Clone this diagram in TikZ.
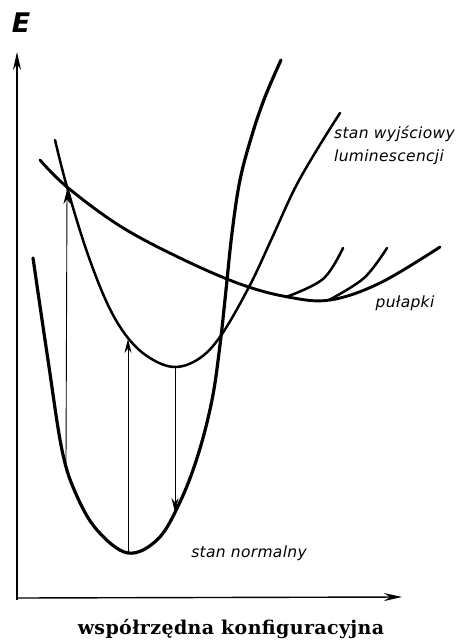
\documentclass[tikz,border=0pt]{standalone}
\usepackage{fontspec}
\newfontfamily\curvefont[LetterSpace=2]{DejaVu Sans}
\newfontfamily\axisfont[LetterSpace=2]{DejaVu Serif}
\usetikzlibrary{arrows.meta}

\begin{document}
\begin{tikzpicture}[x=1pt,y=-1pt,
  axis/.style={line width=1.4pt,-{Stealth[length=18pt,width=8pt]}},
  curve/.style={line width=2.9pt,line cap=round,line join=round},
  transition/.style={line width=0.9pt,-{Stealth[length=14pt,width=7pt]}},
  curvelabel/.style={font=\curvefont\itshape\fontsize{15.5}{23}\selectfont,inner sep=0pt}]
  \useasboundingbox (0,0) rectangle (462,641);

  % axes
  \coordinate (origin) at (17,598);
  \coordinate (etop) at (17,52);
  \coordinate (qend) at (402,597);
  \draw[axis] (17,600) -- (etop);
  \draw[axis] (origin) -- (qend);
  \node[font=\curvefont\bfseries\itshape\fontsize{27}{28}\selectfont,inner sep=0pt] (elabel) at (21,23) {E};
  \node[font=\axisfont\bfseries\fontsize{19}{22}\selectfont,inner sep=0pt] (qlabel) at (231,629) {współrzędna konfiguracyjna};

  % stan normalny
  \draw[curve,line width=3.2pt] plot[smooth,tension=0.6] coordinates {
    (33,258) (48,360) (62,450) (76,494) (97,530) (128,553)
    (158,539) (180,502) (198,455) (212,400) (220,345) (226,290)
    (232,233) (240,180) (252,135) (265,97) (281,60)};

  % stan wyjsciowy luminescencji
  \draw[curve,line width=2.5pt] plot[smooth,tension=0.6] coordinates {
    (55,140) (67,187) (87,252) (108,305) (128,338) (150,358) (175,367)
    (200,358) (222,334) (250,285) (272,238) (295,188) (318,148) (340,113)};

  % pulapki
  \draw[curve] plot[smooth,tension=0.6] coordinates {
    (40,160) (67,187) (120,226) (180,258) (240,284) (288,297)
    (330,300) (380,283) (440,247)};
  \draw[curve,line width=2.5pt] plot[smooth,tension=0.6] coordinates {
    (286,297) (323,279) (343,248)};
  \draw[curve,line width=2.5pt] plot[smooth,tension=0.6] coordinates {
    (329,300) (364,278) (387,248)};

  % przejscia
  \coordinate (g1) at (66,463);
  \coordinate (x1) at (67,190);
  \coordinate (g0) at (128,553);
  \coordinate (x0) at (128,339);
  \coordinate (xmin) at (175,367);
  \coordinate (g2) at (175,512);
  \draw[transition] (g1) -- (x1);
  \draw[transition] (g0) -- (x0);
  \draw[transition] (xmin) -- (g2);

  % opisy
  \node[curvelabel,anchor=west,align=left] (lumlabel) at (334,145) {stan wyjściowy\\luminescencji};
  \node[curvelabel] (traplabel) at (405,303) {pułapki};
  \node[curvelabel] (groundlabel) at (249,553) {stan normalny};
\end{tikzpicture}
\end{document}
